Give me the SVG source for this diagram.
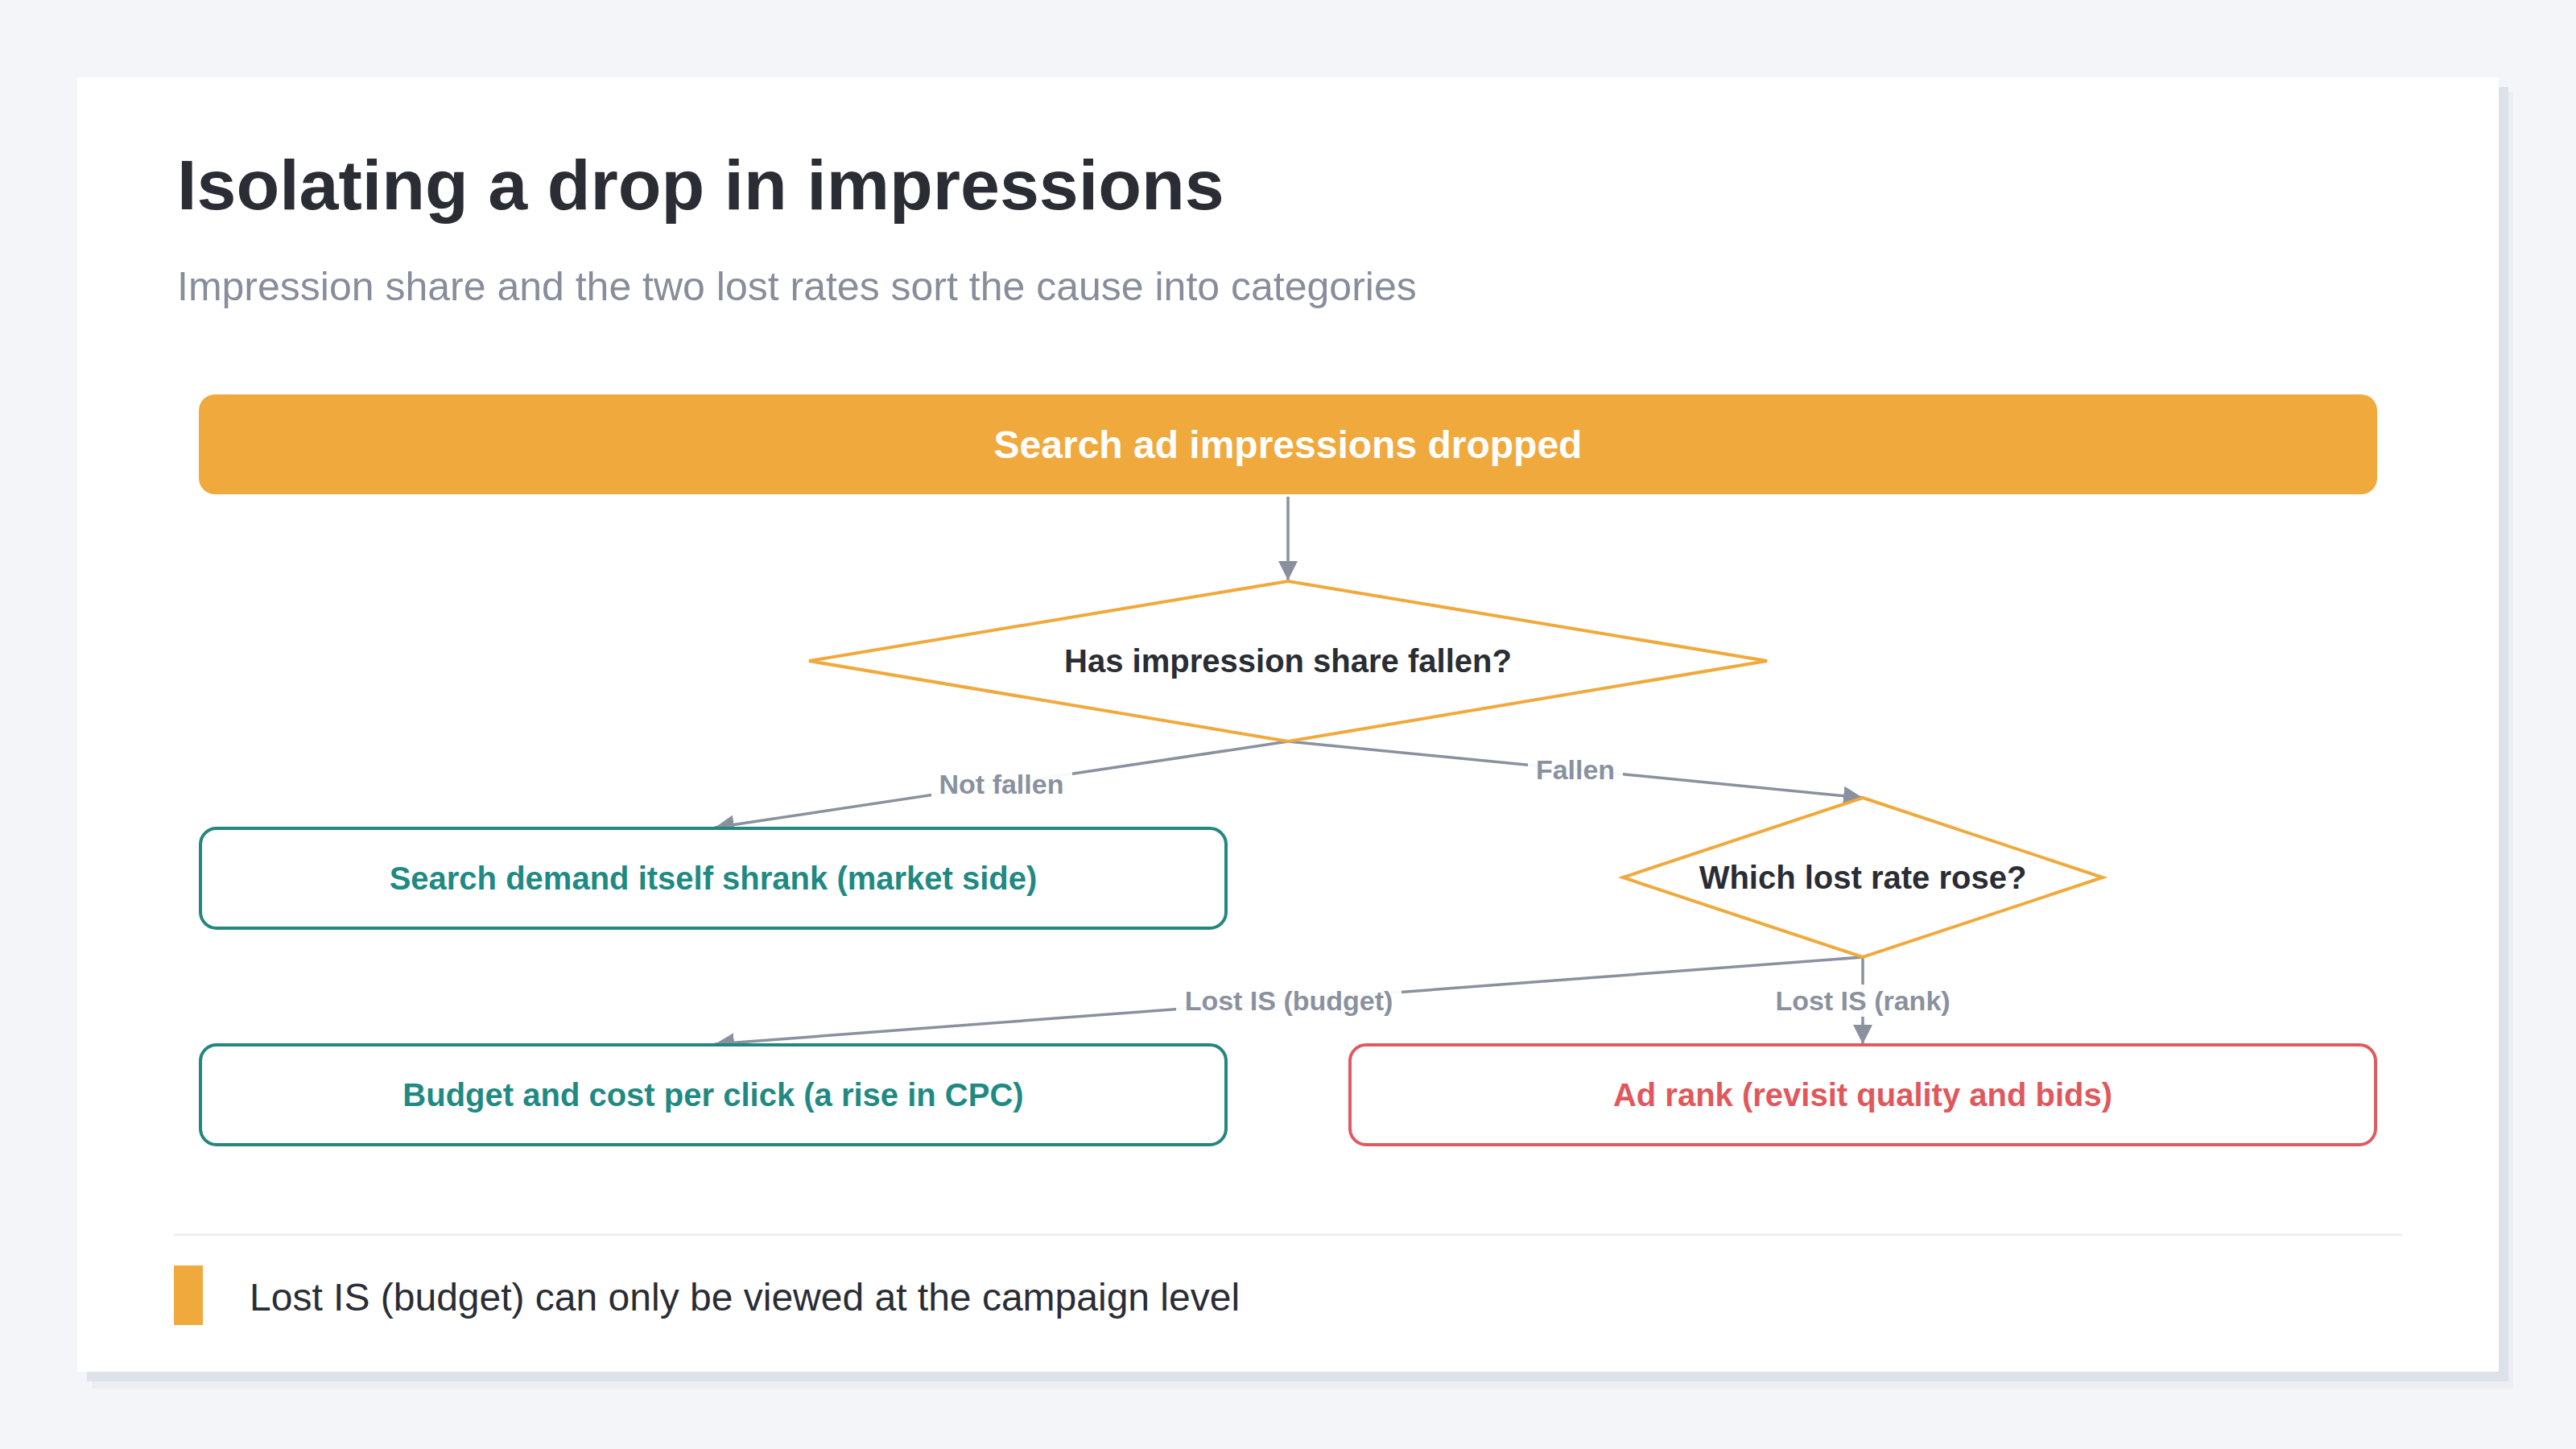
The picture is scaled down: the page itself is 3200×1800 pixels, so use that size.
<svg xmlns="http://www.w3.org/2000/svg" width="3200" height="1800" viewBox="0 0 3200 1800">
  <defs>
    <style>
      .sans { font-family: "Liberation Sans", Arial, Helvetica, sans-serif; }
      .title { font-size: 88px; font-weight: 700; fill: #2a2d34; }
      .subtitle { font-size: 50px; fill: #878d9a; }
      .start-text { font-size: 48px; font-weight: 700; fill: #ffffff; }
      .q-text { font-size: 40px; font-weight: 700; fill: #2a2d34; }
      .teal-text { font-size: 40px; font-weight: 700; fill: #1f8a83; }
      .red-text { font-size: 40px; font-weight: 700; fill: #e0575c; }
      .edge-label { font-size: 34px; font-weight: 700; fill: #8a919e; }
      .legend-text { font-size: 48px; fill: #2a2d34; }
      .diamond { fill: #ffffff; stroke: #f0a93c; stroke-width: 4; stroke-linejoin: miter; }
      .teal-box { fill: #ffffff; stroke: #22877f; stroke-width: 4; }
      .red-box { fill: #ffffff; stroke: #e05a5f; stroke-width: 4; }
      .edge { fill: none; stroke: #8a919e; stroke-width: 3.5; }
      .label-bg { fill: #ffffff; opacity: 0.94; }
    </style>
    <marker id="arrow" viewBox="0 0 24 24" refX="24" refY="12" markerWidth="24" markerHeight="24" markerUnits="userSpaceOnUse" orient="auto">
      <path d="M0,0 L24,12 L0,24 z" fill="#8a919e"/>
    </marker>
  </defs>

  <!-- background and card -->
  <rect x="0" y="0" width="3200" height="1800" fill="#f3f5f9"/>
  <rect x="114" y="114" width="3008" height="1611" fill="#eceef4"/>
  <rect x="108" y="108" width="3008" height="1608" fill="#dde1e8"/>
  <rect x="96" y="96" width="3008" height="1608" fill="#ffffff"/>

  <!-- header -->
  <text class="sans title" x="220" y="260">Isolating a drop in impressions</text>
  <text class="sans subtitle" x="220" y="373">Impression share and the two lost rates sort the cause into categories</text>

  <!-- connectors -->
  <g id="connectors">
    <line class="edge" x1="1600" y1="617" x2="1600" y2="721" marker-end="url(#arrow)"/>
    <line class="edge" x1="1600" y1="921" x2="888" y2="1028" marker-end="url(#arrow)"/>
    <line class="edge" x1="1600" y1="921" x2="2314" y2="991" marker-end="url(#arrow)"/>
    <line class="edge" x1="2314" y1="1189" x2="888" y2="1297" marker-end="url(#arrow)"/>
    <line class="edge" x1="2314" y1="1189" x2="2314" y2="1297" marker-end="url(#arrow)"/>

    <rect class="label-bg" x="1157" y="954" width="175" height="40"/>
    <text class="sans edge-label" x="1244" y="986" text-anchor="middle">Not fallen</text>

    <rect class="label-bg" x="1898" y="936" width="118" height="40"/>
    <text class="sans edge-label" x="1957" y="968" text-anchor="middle">Fallen</text>

    <rect class="label-bg" x="1461" y="1223" width="280" height="40"/>
    <text class="sans edge-label" x="1601" y="1255" text-anchor="middle">Lost IS (budget)</text>

    <rect class="label-bg" x="2196" y="1223" width="236" height="40"/>
    <text class="sans edge-label" x="2314" y="1255" text-anchor="middle">Lost IS (rank)</text>
  </g>

  <!-- nodes -->
  <g id="node-start">
    <rect x="247" y="490" width="2706" height="124" rx="20" ry="20" fill="#f0a93c"/>
    <text class="sans start-text" x="1600" y="569" text-anchor="middle">Search ad impressions dropped</text>
  </g>

  <g id="node-q1">
    <polygon class="diamond" points="1600,722 2195,821 1600,921 1005,821"/>
    <text class="sans q-text" x="1600" y="835" text-anchor="middle">Has impression share fallen?</text>
  </g>

  <g id="node-market">
    <rect class="teal-box" x="249" y="1029" width="1274" height="124" rx="20" ry="20"/>
    <text class="sans teal-text" x="886" y="1105" text-anchor="middle">Search demand itself shrank (market side)</text>
  </g>

  <g id="node-q2">
    <polygon class="diamond" points="2314,991 2612,1090 2314,1189 2016,1090"/>
    <text class="sans q-text" x="2314" y="1104" text-anchor="middle">Which lost rate rose?</text>
  </g>

  <g id="node-budget">
    <rect class="teal-box" x="249" y="1298" width="1274" height="124" rx="20" ry="20"/>
    <text class="sans teal-text" x="886" y="1374" text-anchor="middle">Budget and cost per click (a rise in CPC)</text>
  </g>

  <g id="node-rank">
    <rect class="red-box" x="1677" y="1298" width="1274" height="124" rx="20" ry="20"/>
    <text class="sans red-text" x="2314" y="1374" text-anchor="middle">Ad rank (revisit quality and bids)</text>
  </g>

  <!-- footer -->
  <line x1="216" y1="1534" x2="2984" y2="1534" stroke="#eceef2" stroke-width="3"/>
  <g id="legend">
    <rect x="216" y="1572" width="36" height="74" fill="#f0a93c"/>
    <text class="sans legend-text" x="310" y="1628">Lost IS (budget) can only be viewed at the campaign level</text>
  </g>
</svg>
